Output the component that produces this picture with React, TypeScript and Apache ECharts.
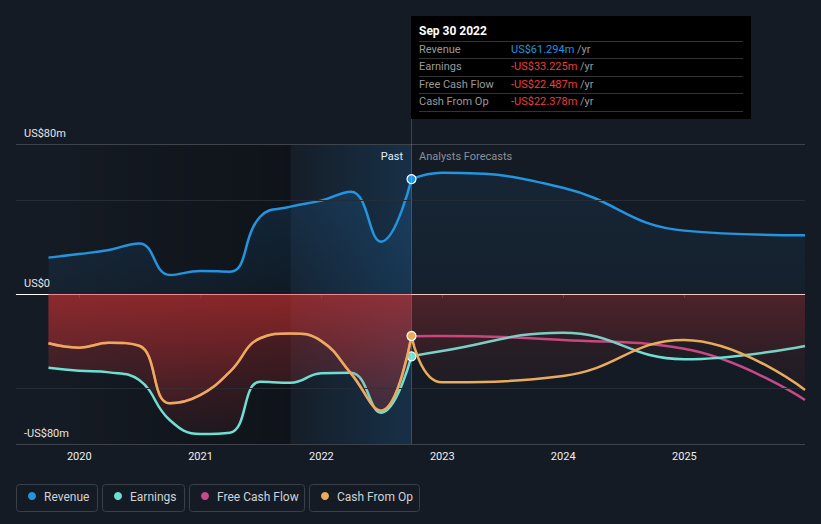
import React, { useEffect, useRef } from "react";
import * as echarts from "echarts";

const pastDates = ["2019-09-30","2019-12-31","2020-03-31","2020-06-30","2020-09-30","2020-12-31","2021-03-31","2021-06-30","2021-09-30","2021-12-31","2022-03-31","2022-06-30","2022-09-30"];
const forecastDates = ["2022-09-30","2022-12-31","2023-12-31","2024-12-31","2025-12-31"];

const revenuePast = [19.4, 21.3, 23.5, 27.0, 10.1, 12.3, 11.9, 41.2, 46.6, 49.8, 54.6, 27.9, 61.294];
const revenueForecast = [61.294, 64.7, 56.7, 33.8, 31.3];
const earningsPast = [-39.3, -40.9, -41.8, -45.9, -67.2, -74.7, -74.0, -46.8, -47.3, -42.3, -42.0, -63.3, -33.225];
const earningsForecast = [-33.225, -30.4, -20.6, -34.8, -27.7];
const fcfPast = [-26.3, -28.6, -26.0, -27.6, -58.3, -53.9, -41.4, -23.6, -21.0, -25.0, -42.3, -62.2, -22.487];
const fcfForecast = [-22.487, -22.4, -24.5, -29.2, -56.5];
const cfoPast = [-26.3, -28.6, -26.0, -27.6, -58.3, -53.9, -41.4, -23.6, -21.0, -25.0, -42.3, -62.2, -22.378];
const cfoForecast = [-22.378, -47.1, -43.7, -24.5, -51.2];

const yTicks = [-80, 0, 80];
const minorGrid = [50, -50];

const legendItems = [
  { name: "Revenue", color: "#2394df" },
  { name: "Earnings", color: "#6ee0d3" },
  { name: "Free Cash Flow", color: "#c64a8a" },
  { name: "Cash From Op", color: "#e9ac5a" },
];

const tooltipRows = [
  { label: "Revenue", value: "US$61.294m", color: "#2394df" },
  { label: "Earnings", value: "-US$33.225m", color: "#ef3b3b" },
  { label: "Free Cash Flow", value: "-US$22.487m", color: "#ef3b3b" },
  { label: "Cash From Op", value: "-US$22.378m", color: "#ef3b3b" },
];

const FONT = "Roboto, 'Noto Sans', sans-serif";
const BG = "#151b24";

function pair(dates: string[], vals: number[]) {
  return dates.map((d, i) => [d, vals[i]]);
}

function vGrad(c: string, a0: number, a1: number) {
  return new echarts.graphic.LinearGradient(0, 0, 0, 1, [
    { offset: 0, color: `rgba(${c},${a0})` },
    { offset: 1, color: `rgba(${c},${a1})` },
  ]);
}

function lineSeries(name: string, data: any[], color: string, z: number, area: any, marker: boolean) {
  return {
    type: "line",
    name,
    data,
    smooth: 0.45,
    z,
    symbol: "circle",
    showSymbol: marker,
    showAllSymbol: true,
    symbolSize: (_v: any, p: any) => (marker && p.dataIndex === 0 ? 9 : 0),
    itemStyle: { color, borderColor: "#ffffff", borderWidth: 1.2 },
    lineStyle: { color, width: 2.5 },
    areaStyle: area ? { color: area, origin: 0 } : undefined,
    emphasis: { disabled: true },
    silent: true,
  };
}

export default function App() {
  const ref = useRef<HTMLDivElement>(null);
  useEffect(() => {
    if (!ref.current) return;
    const chart = echarts.init(ref.current, null, { renderer: "svg" });

    const graphics: any[] = [];
    graphics.push({ type: "line", shape: { x1: 411.5, y1: 119, x2: 411.5, y2: 144 }, style: { stroke: "rgba(255,255,255,0.18)", lineWidth: 1 } });
    graphics.push({ type: "rect", shape: { x: 411, y: 16, width: 340, height: 103 }, style: { fill: "#000000" } });
    graphics.push({ type: "text", x: 419, y: 31, style: { text: "Sep 30 2022", fill: "#ffffff", font: `bold 12px ${FONT}`, verticalAlign: "middle" } });
    const sepY = [41, 58, 76, 93, 111];
    sepY.forEach((y) => graphics.push({ type: "line", shape: { x1: 419, y1: y + 0.5, x2: 743, y2: y + 0.5 }, style: { stroke: "#333333", lineWidth: 1 } }));
    const rowY = [49.5, 66.5, 84.5, 101.5];
    tooltipRows.forEach((r, i) => {
      graphics.push({ type: "text", x: 419, y: rowY[i], style: { text: r.label, fill: "#9a9a9a", font: `11px ${FONT}`, verticalAlign: "middle" } });
      graphics.push({
        type: "text", x: 511, y: rowY[i],
        style: {
          text: `{v|${r.value}} {u|/yr}`, verticalAlign: "middle", font: `11px ${FONT}`,
          rich: { v: { fill: r.color, font: `11px ${FONT}` }, u: { fill: "#9a9a9a", font: `11px ${FONT}` } },
        },
      });
    });
    graphics.push({ type: "text", x: 403, y: 156, style: { text: "Past", fill: "#ffffff", font: `11px ${FONT}`, align: "right", verticalAlign: "middle" } });
    graphics.push({ type: "text", x: 419, y: 156, style: { text: "Analysts Forecasts", fill: "#8a9099", font: `11px ${FONT}`, verticalAlign: "middle" } });
    const boxes = [
      { x: 16, w: 81 },
      { x: 102, w: 82 },
      { x: 189, w: 115 },
      { x: 309, w: 110 },
    ];
    legendItems.forEach((it, i) => {
      const b = boxes[i];
      graphics.push({ type: "rect", shape: { x: b.x + 0.5, y: 484.5, width: b.w, height: 27, r: 3 }, style: { fill: "none", stroke: "#3a404a", lineWidth: 1 } });
      graphics.push({ type: "circle", shape: { cx: b.x + 16, cy: 496, r: 4 }, style: { fill: it.color } });
      graphics.push({ type: "text", x: b.x + 28, y: 496.5, style: { text: it.name, fill: "#cfd2d6", font: `12px ${FONT}`, verticalAlign: "middle" } });
    });

    const option: any = {
      animation: false,
      backgroundColor: BG,
      textStyle: { fontFamily: FONT },
      grid: { left: 16, right: 16, top: 144, bottom: 80, containLabel: false },
      xAxis: {
        type: "time",
        min: "2019-06-24",
        max: "2025-12-31",
        minInterval: 365 * 24 * 3600 * 1000,
        splitLine: { show: false },
        axisLine: { lineStyle: { color: "#3f444c" } },
        axisTick: { show: true, length: 4, lineStyle: { color: "#3f444c" } },
        axisLabel: { color: "#f0f0f0", fontSize: 11, margin: 7, formatter: "{yyyy}", fontFamily: FONT },
      },
      yAxis: {
        type: "value",
        min: yTicks[0],
        max: yTicks[2],
        interval: 80,
        axisLine: { show: false },
        axisTick: { show: false },
        axisLabel: {
          inside: true,
          margin: 8,
          color: "#e6e6e6",
          fontSize: 11,
          fontFamily: FONT,
          verticalAlign: "bottom",
          padding: [0, 0, 5, 0],
          formatter: (v: number) => (v === 0 ? "US$0" : v > 0 ? `US$${v}m` : `-US$${-v}m`),
        },
        splitLine: { show: true, lineStyle: { color: ["#3f444c", "#ffffff", "#3f444c"], width: 1 } },
        z: 3,
      },
      graphic: graphics,
      series: [
        {
          ...lineSeries("Revenue", pair(pastDates, revenuePast), "#2394df", 2, vGrad("33,150,243", 0.22, 0.08), false),
          markLine: {
            silent: true,
            symbol: "none",
            label: { show: false },
            lineStyle: { color: "#262c35", width: 1, type: "solid" },
            data: minorGrid.map((v) => ({ yAxis: v })),
          },
        },
        lineSeries("Revenue", pair(forecastDates, revenueForecast), "#2394df", 2, vGrad("33,150,243", 0.12, 0.06), true),
        lineSeries("Free Cash Flow", pair(pastDates, fcfPast), "#c64a8a", 3, null, false),
        lineSeries("Free Cash Flow", pair(forecastDates, fcfForecast), "#c64a8a", 3, null, false),
        lineSeries("Earnings", pair(pastDates, earningsPast), "#6ee0d3", 4, vGrad("224,52,52", 0.5, 0.1), false),
        lineSeries("Earnings", pair(forecastDates, earningsForecast), "#6ee0d3", 4, vGrad("224,52,52", 0.22, 0.06), true),
        lineSeries("Cash From Op", pair(pastDates, cfoPast), "#e9ac5a", 5, vGrad("224,52,52", 0.5, 0.1), false),
        {
          ...lineSeries("Cash From Op", pair(forecastDates, cfoForecast), "#e9ac5a", 5, vGrad("224,52,52", 0.22, 0.06), true),
          markArea: {
            silent: true,
            data: [
              [
                {
                  xAxis: pastDates[0],
                  itemStyle: {
                    color: new echarts.graphic.LinearGradient(0, 0, 1, 0, [
                      { offset: 0, color: "rgba(0,0,0,0)" },
                      { offset: 1, color: "rgba(0,0,0,0.3)" },
                    ]),
                  },
                },
                { xAxis: pastDates[8] },
              ],
              [
                {
                  xAxis: pastDates[8],
                  itemStyle: {
                    color: new echarts.graphic.LinearGradient(0, 0, 1, 0, [
                      { offset: 0, color: "rgba(33,150,243,0.02)" },
                      { offset: 1, color: "rgba(33,150,243,0.17)" },
                    ]),
                  },
                },
                { xAxis: pastDates[12] },
              ],
            ],
          },
          markLine: {
            silent: true,
            symbol: "none",
            label: { show: false },
            lineStyle: { color: "rgba(255,255,255,0.18)", width: 1, type: "solid" },
            data: [{ xAxis: pastDates[12] }],
          },
        },
      ],
    };
    chart.setOption(option);
    return () => chart.dispose();
  }, []);
  return <div ref={ref} style={{ position: "fixed", left: 0, top: 0, width: 821, height: 524 }} />;
}
